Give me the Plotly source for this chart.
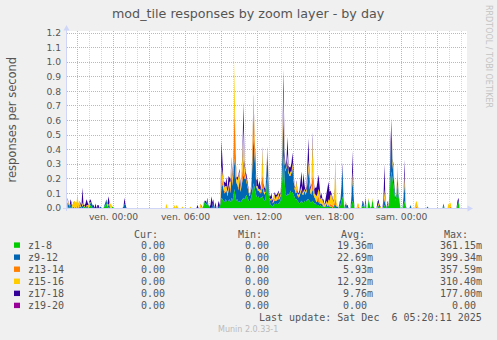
import pandas as pd
import plotly.graph_objects as go

# ---------------- data (5-minute samples, slot 0 = Thu 2025-12-04 20:10) ----------------
START = "2025-12-04 20:10"
N_SLOTS = 400

SERIES_NAMES = ["z1-8", "z9-12", "z13-14", "z15-16", "z17-18", "z19-20"]
SERIES_COLORS = ["#00CC00", "#0066B3", "#FF8000", "#FFCC00", "#330099", "#990099"]

# (slot, value) pairs; all other slots are 0
Z1_8 = [(0, .01), (2, .01), (4, .01), (6, .01), (12, .01), (17, .01), (20, .02), (22, .01), (23, .02), (24, .01),
        (37, .01), (38, .02), (39, .03), (40, .01), (42, .02), (45, .01),
        (136, .02), (137, .04), (138, .03), (139, .02), (140, .04), (141, .01), (146, .01), (153, .03),
        (154, .07), (155, .06), (156, .05), (157, .04), (158, .06), (159, .05), (160, .04), (161, .05), (162, .06),
        (163, .04), (164, .07), (165, .05), (166, .08), (167, .13), (168, .08), (169, .05), (170, .06), (171, .04),
        (172, .05), (173, .04), (174, .05), (175, .06), (176, .07), (177, .06), (178, .08), (179, .09), (180, .07),
        (181, .05), (182, .04), (183, .06), (184, .08), (185, .12), (186, .17), (187, .14), (188, .10), (189, .08),
        (190, .07), (191, .08), (192, .06), (193, .07), (194, .07), (195, .08), (196, .06), (197, .05), (198, .06),
        (199, .12), (200, .22), (201, .10), (202, .04), (203, .02), (204, .02), (205, .01), (206, .02), (207, .03),
        (208, .02), (209, .03), (210, .02), (211, .03), (212, .04), (213, .05), (214, .10), (215, .25), (216, .36),
        (217, .20), (218, .10), (219, .08), (220, .10), (221, .09), (222, .10), (223, .12), (224, .10), (225, .11),
        (226, .09), (227, .07), (228, .06), (229, .06), (230, .05), (231, .04), (232, .03), (233, .04), (234, .05),
        (235, .04), (236, .03), (237, .05), (238, .04), (239, .05), (240, .06), (241, .06), (242, .05), (243, .04),
        (244, .04), (245, .05), (246, .04), (247, .03), (248, .03), (249, .02), (250, .02), (251, .02), (252, .01),
        (253, .02), (254, .01), (255, .01), (257, .01), (259, .01), (261, .01), (263, .01), (267, .01),
        (272, .01), (273, .02), (274, .05), (275, .08), (276, .03), (278, .01), (284, .02), (285, .05), (286, .03),
        (295, .01), (296, .02), (298, .03), (301, .05), (302, .03), (304, .01), (305, .06), (306, .01), (311, .01),
        (317, .02), (320, .02), (321, .01), (322, .05), (323, .20), (324, .25), (325, .20), (326, .15), (327, .10),
        (328, .05), (329, .08), (330, .17), (331, .08), (332, .02), (336, .02), (337, .05), (376, .01), (390, .02),
        (391, .04)]

Z9_12 = [(0, .03), (1, .02), (3, .02), (4, .03), (13, .01), (15, .02), (19, .01), (23, .02), (24, .03), (25, .02),
         (30, .01), (33, .01), (37, .01), (38, .02), (39, .03), (41, .02), (56, .01), (57, .03),
         (137, .01), (139, .02), (140, .02), (142, .01), (145, .02), (146, .05), (148, .01), (151, .01), (153, .02),
         (154, .08), (155, .10), (156, .08), (157, .06), (158, .05), (159, .07), (160, .04), (161, .08), (162, .10),
         (163, .06), (164, .16), (165, .10), (166, .15), (167, .21), (168, .14), (169, .12), (170, .10), (171, .08),
         (172, .15), (173, .07), (174, .10), (175, .12), (176, .16), (177, .14), (178, .12), (179, .10), (180, .08),
         (181, .05), (182, .04), (183, .04), (184, .06), (185, .20), (186, .32), (187, .22), (188, .10), (189, .06),
         (190, .05), (191, .04), (192, .05), (193, .03), (194, .04), (195, .06), (196, .05), (197, .04), (198, .05),
         (199, .10), (200, .16), (201, .07), (202, .03), (203, .03), (204, .04), (205, .02), (206, .02), (207, .02),
         (208, .03), (209, .02), (210, .04), (211, .03), (212, .02), (213, .03), (214, .06), (215, .15), (216, .30),
         (217, .12), (218, .15), (219, .20), (220, .22), (221, .15), (222, .12), (223, .10), (224, .14), (225, .16),
         (226, .10), (227, .06), (228, .04), (229, .05), (230, .03), (231, .03), (232, .05), (233, .06), (234, .08),
         (235, .05), (236, .06), (237, .07), (238, .05), (239, .06), (240, .12), (241, .20), (242, .10), (243, .06),
         (244, .05), (245, .08), (246, .05), (247, .04), (248, .03), (249, .02), (250, .03), (251, .02), (252, .02),
         (253, .01), (254, .02), (255, .01), (256, .01), (258, .01), (259, .02), (260, .01), (261, .01), (262, .01),
         (264, .01), (266, .01), (267, .01), (268, .02),
         (269, .01), (270, .01), (272, .02), (273, .04), (274, .10), (275, .20), (276, .03), (278, .02), (279, .02),
         (284, .05), (285, .15), (286, .05), (295, .03), (296, .02), (298, .04), (301, .01), (311, .01), (316, .02),
         (317, .04), (318, .01), (320, .02), (322, .05), (323, .20), (324, .35), (325, .10), (326, .05), (327, .03),
         (328, .02), (329, .02), (330, .05), (331, .02), (336, .05), (337, .12), (338, .02), (343, .02), (360, .01),
         (376, .02), (391, .01)]

Z13_14 = [(8, .01), (10, .02), (12, .02), (19, .01),
          (154, .06), (155, .03), (157, .02), (159, .01), (161, .02), (163, .03), (164, .05), (165, .02), (166, .10),
          (167, .36), (168, .08), (169, .01), (171, .02), (172, .02), (174, .03), (175, .08), (176, .12), (177, .04),
          (178, .01), (181, .01), (184, .01), (185, .10), (186, .22), (187, .12), (188, .02), (190, .01), (193, .01),
          (194, .03), (195, .10), (196, .02), (199, .02), (200, .02), (207, .02), (209, .01), (211, .03), (215, .02),
          (216, .05), (217, .01), (220, .02), (223, .01), (225, .02), (228, .01), (229, .03), (231, .01), (233, .01),
          (236, .01), (239, .01), (240, .02), (241, .03), (242, .01), (244, .02), (245, .12), (246, .04), (248, .01),
          (250, .02), (251, .04), (252, .02), (255, .01), (259, .01), (261, .01), (263, .02), (264, .01), (265, .02),
          (267, .02), (268, .05),
          (285, .02), (291, .01), (310, .01), (317, .02), (323, .03), (324, .02), (325, .02), (326, .03), (327, .01),
          (329, .01), (330, .04), (337, .02), (349, .01), (383, .01)]

Z15_16 = [(0, .02), (1, .01), (5, .02), (6, .03), (7, .05), (8, .03), (9, .04), (10, .07), (11, .03), (12, .02),
          (13, .02), (15, .02), (17, .01), (21, .02), (22, .03), (38, .01), (40, .02), (42, .02), (43, .03), (44, .02),
          (99, .03), (107, .02), (109, .02), (110, .01), (115, .01), (123, .01), (133, .03), (134, .01), (136, .02),
          (153, .02),
          (154, .08), (155, .05), (156, .03), (157, .02), (158, .04), (159, .02), (160, .03), (161, .01), (162, .02),
          (163, .05), (164, .06), (165, .03), (166, .06), (167, .31), (168, .05), (169, .02), (170, .03), (171, .08),
          (172, .03), (173, .02), (174, .04), (175, .10), (176, .20), (177, .05), (178, .02), (179, .01), (180, .02),
          (181, .01), (182, .01), (184, .02), (185, .03), (186, .05), (187, .03), (188, .01), (189, .01), (190, .02),
          (191, .01), (192, .02), (193, .01), (194, .04), (195, .16), (196, .03), (197, .02), (199, .02), (200, .01),
          (201, .01), (203, .01), (204, .01), (206, .02), (207, .03), (208, .01), (209, .02), (210, .02), (211, .02),
          (212, .01), (213, .02), (214, .01), (215, .03), (216, .08), (217, .02), (218, .01), (219, .01), (220, .03),
          (221, .02), (222, .01), (223, .02), (224, .01), (225, .02), (226, .01), (227, .01), (228, .03), (229, .04),
          (230, .02), (231, .01), (232, .02), (233, .01), (234, .02), (235, .01), (236, .02), (237, .01), (238, .02),
          (239, .01), (240, .02), (241, .04), (242, .02), (243, .02), (244, .05), (245, .22), (246, .06), (247, .03),
          (248, .02), (249, .04), (250, .03), (251, .05), (252, .06), (253, .03), (254, .04), (255, .02), (256, .03),
          (257, .01), (258, .02), (259, .01), (260, .02), (261, .03), (262, .04), (263, .06), (264, .07), (265, .05),
          (266, .03), (267, .08), (268, .25),
          (269, .03), (270, .01), (278, .02), (285, .03), (290, .03), (291, .02), (301, .01), (305, .01), (311, .02),
          (313, .01), (317, .05), (321, .01), (323, .02), (325, .02), (326, .05), (330, .04), (337, .04), (348, .03),
          (349, .04), (350, .02), (381, .03), (382, .02), (383, .03)]

Z17_18 = [(0, .01), (3, .04), (14, .02), (15, .10), (16, .02), (18, .03), (19, .04), (20, .02), (22, .01), (23, .02),
          (26, .02), (28, .03), (30, .01), (31, .02), (41, .06), (57, .04), (58, .02),
          (130, .02), (138, .02), (140, .01), (143, .02), (144, .08), (145, .02), (148, .03), (151, .04), (152, .02),
          (154, .17), (155, .03), (156, .02), (157, .04), (158, .02), (159, .06), (160, .02), (161, .06), (162, .03),
          (163, .02), (164, .01), (165, .03), (166, .02), (168, .02), (169, .01), (170, .02), (171, .01), (172, .02),
          (173, .03), (174, .02), (175, .05), (176, .17), (177, .04), (178, .02), (179, .03), (180, .01), (181, .01),
          (183, .01), (184, .02), (185, .02), (186, .02), (187, .02), (188, .01), (189, .04), (190, .05), (191, .02),
          (192, .06), (193, .02), (194, .01), (195, .02), (196, .01), (197, .03), (198, .02), (199, .01), (200, .01),
          (201, .01), (202, .01), (203, .02), (204, .03), (205, .02), (206, .01), (207, .01), (208, .03), (209, .01),
          (210, .02), (211, .01), (212, .02), (213, .01), (214, .01), (215, .06), (216, .16), (217, .04), (218, .03),
          (219, .04), (220, .12), (221, .03), (222, .05), (223, .03), (224, .06), (225, .07), (226, .02), (227, .01),
          (229, .01), (230, .02), (231, .01), (232, .02), (233, .06), (234, .10), (235, .04), (236, .12), (237, .03),
          (238, .01), (239, .02), (240, .06), (241, .15), (242, .04), (243, .02), (244, .01), (245, .05), (246, .02),
          (247, .03), (248, .05), (249, .06), (250, .08), (251, .10), (252, .05), (253, .02), (254, .03), (255, .01),
          (256, .02), (258, .03), (259, .06), (260, .10), (261, .12), (262, .06), (263, .03), (264, .01), (266, .01),
          (267, .01), (268, .01),
          (272, .01), (275, .03), (280, .02), (284, .02), (285, .14), (286, .02), (295, .01), (310, .03), (311, .02),
          (312, .02), (316, .05), (317, .17), (318, .02), (320, .01), (326, .02), (337, .10), (390, .03), (391, .02)]

Z19_20 = []

SERIES_DATA = [Z1_8, Z9_12, Z13_14, Z15_16, Z17_18, Z19_20]

LEGEND_CUR = ["0.00", "0.00", "0.00", "0.00", "0.00", "0.00"]
LEGEND_MIN = ["0.00", "0.00", "0.00", "0.00", "0.00", "0.00"]
LEGEND_AVG = ["19.36m", "22.69m", "5.93m", "12.92m", "9.76m", "0.00"]
LEGEND_MAX = ["361.15m", "399.34m", "357.59m", "310.40m", "177.00m", "0.00"]

TICK_TIMES = pd.date_range("2025-12-04 21:00", "2025-12-06 03:00", freq="3h")
TICK_LABELS = ["", "ven. 00:00", "", "ven. 06:00", "", "ven. 12:00", "", "ven. 18:00", "", "sam. 00:00", ""]
Y_TICKS = [0.0, 0.1, 0.2, 0.3, 0.4, 0.5, 0.6, 0.7, 0.8, 0.9, 1.0, 1.1, 1.2]

TITLE = "mod_tile responses by zoom layer - by day"
Y_TITLE = "responses per second"
LAST_UPDATE = "Last update: Sat Dec \u00a06 05:20:11 2025"

# ---------------- figure ----------------
times = pd.date_range(START, periods=N_SLOTS, freq="5min")


def expand(pairs):
    arr = [0.0] * N_SLOTS
    for s, v in pairs:
        arr[s] = v
    return arr


W, H = 497, 340
L, R, T, B = 67, 30, 31, 132
PW, PH = W - L - R, H - T - B
Y_TOP = 1.2 + 2 / 146.0


def px(x):
    return (x - L) / PW


def py(y):
    return (T + PH - y) / PH


fig = go.Figure()
for name, color, pairs in zip(SERIES_NAMES, SERIES_COLORS, SERIES_DATA):
    fig.add_trace(go.Scatter(
        x=times, y=expand(pairs), name=name, mode="lines",
        stackgroup="one", line=dict(width=0, color=color),
        fillcolor=color, hoverinfo="skip", showlegend=False,
    ))

half = pd.Timedelta(minutes=2.5)
FONT = "DejaVu Sans"
MONO = "DejaVu Sans Mono"
TXT = "#555555"

fig.update_layout(
    width=W, height=H,
    margin=dict(l=L, r=R, t=T, b=B, pad=0),
    paper_bgcolor="#F0F0F0", plot_bgcolor="#FFFFFF",
    showlegend=False,
    xaxis=dict(
        type="date", range=[times[0] - half, times[-1] + half],
        tickmode="array", tickvals=list(TICK_TIMES), ticktext=TICK_LABELS,
        showgrid=True, gridcolor="#EBA3A3", griddash="1px,1px", gridwidth=1,
        minor=dict(tick0="2025-12-04 21:00", dtick=3600000, showgrid=True,
                   gridcolor="#D6D6D6", griddash="1px,1px", gridwidth=1),
        ticks="", showline=False, zeroline=False,
        tickfont=dict(family=FONT, size=9.2, color=TXT),
        ticklabelstandoff=2,
    ),
    yaxis=dict(
        range=[0, Y_TOP], tickmode="array", tickvals=Y_TICKS,
        ticktext=[f"{v:.1f}" for v in Y_TICKS],
        showgrid=True, gridcolor="#EBA3A3", griddash="1px,1px", gridwidth=1,
        ticks="", showline=False, zeroline=False,
        tickfont=dict(family=FONT, size=9.2, color=TXT),
        ticklabelstandoff=5,
    ),
)

AX = "#CFD6F8"
shapes = [
    dict(type="line", xref="paper", yref="paper", x0=px(66.5), x1=px(66.5), y0=py(211), y1=py(29),
         line=dict(color=AX, width=1), layer="above"),
    dict(type="line", xref="paper", yref="paper", x0=px(63), x1=px(469), y0=py(208.5), y1=py(208.5),
         line=dict(color=AX, width=1), layer="above"),
    dict(type="path", xref="paper", yref="paper",
         path=f"M {px(63.5)} {py(30.5)} L {px(69.5)} {py(30.5)} L {px(66.5)} {py(25)} Z",
         fillcolor=AX, line=dict(width=0), layer="above"),
    dict(type="path", xref="paper", yref="paper",
         path=f"M {px(467.5)} {py(205.5)} L {px(467.5)} {py(211.5)} L {px(473)} {py(208.5)} Z",
         fillcolor=AX, line=dict(width=0), layer="above"),
]

annotations = [
    dict(text=TITLE, x=px(248.5), y=py(13.5), xanchor="center", yanchor="middle",
         font=dict(family=FONT, size=12.7, color=TXT)),
    dict(text=Y_TITLE, x=px(11), y=py(119.5), xanchor="center", yanchor="middle", textangle=-90,
         font=dict(family=FONT, size=11.5, color=TXT)),
    dict(text="RRDTOOL / TOBI OETIKER", x=px(488.5), y=py(56.5), xanchor="center", yanchor="middle",
         textangle=90, font=dict(family=FONT, size=8, color="#C4C4C4")),
]

# legend header
for label, rx in zip(["Cur:", "Min:", "Avg:", "Max:"], [159.5, 263.5, 366.5, 470]):
    annotations.append(dict(text=label, x=px(rx), y=py(234), xanchor="right", yanchor="middle",
                            font=dict(family=MONO, size=10, color=TXT)))

CHAR = 6.02
for k, name in enumerate(SERIES_NAMES):
    ry = 245.2 + 12.06 * k
    shapes.append(dict(type="rect", xref="paper", yref="paper", x0=px(14), x1=px(20),
                       y0=py(ry - 2.8), y1=py(ry + 2.6), fillcolor=SERIES_COLORS[k],
                       line=dict(width=0)))
    annotations.append(dict(text=name, x=px(26), y=py(ry), xanchor="left", yanchor="middle",
                            font=dict(family=MONO, size=10, color=TXT)))
    cols = [(LEGEND_CUR[k], 167), (LEGEND_MIN[k], 271), (LEGEND_AVG[k], 375), (LEGEND_MAX[k], 484)]
    for ci, (val, rx) in enumerate(cols):
        if ci >= 2 and not val.endswith("m"):
            rx -= CHAR
        annotations.append(dict(text=val, x=px(rx), y=py(ry), xanchor="right", yanchor="middle",
                                font=dict(family=MONO, size=10, color=TXT)))

annotations.append(dict(text=LAST_UPDATE, x=px(484), y=py(317.8), xanchor="right", yanchor="middle",
                        font=dict(family=MONO, size=10, color=TXT)))
annotations.append(dict(text="Munin 2.0.33-1", x=px(248), y=py(329), xanchor="center", yanchor="middle",
                        font=dict(family=FONT, size=8, color="#BBBBBB")))

for a in annotations:
    a.update(xref="paper", yref="paper", showarrow=False)

fig.update_layout(shapes=shapes, annotations=annotations)
fig.write_html("out.html")
